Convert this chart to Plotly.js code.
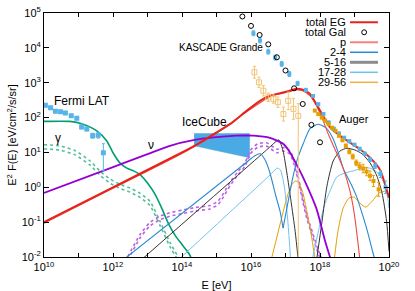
<!DOCTYPE html>
<html><head><meta charset="utf-8">
<script src="https://cdn.plot.ly/plotly-3.0.1.min.js"></script>
<style>html,body{margin:0;padding:0;background:#fff}#c{width:415px;height:291px}</style>
</head><body><div id="c"></div>
<script>
// All energies / fluxes stored as log10 values (E in eV, E^2F in eV/cm^2/s/sr)
const xTickVals = [10, 12, 14, 16, 18, 20];
const xTickText = ['10<sup>10</sup>','10<sup>12</sup>','10<sup>14</sup>','10<sup>16</sup>','10<sup>18</sup>','10<sup>20</sup>'];
const xMinorVals = [11, 13, 15, 17, 19];
const yTickVals = [-2,-1,0,1,2,3,4,5];
const yTickText = ['10<sup>-2</sup>','10<sup>-1</sup>','10<sup>0</sup>','10<sup>1</sup>','10<sup>2</sup>','10<sup>3</sup>','10<sup>4</sup>','10<sup>5</sup>'];

// IceCube band
const iceE = [14.35, 15.96, 15.96, 14.35];
const iceF = [1.54, 1.54, 0.85, 1.19];

// gamma (green)
const gamE = [10, 10.75, 11.13, 11.53, 11.82, 12.0, 12.2, 12.4, 12.6, 12.8, 13.0, 13.2, 13.4, 13.6, 13.8, 14.0, 14.2, 14.3];
const gamF = [1.89, 1.89, 1.81, 1.62, 1.33, 0.99, 0.70, 0.55, 0.47, 0.35, 0.12, -0.17, -0.57, -1.03, -1.38, -1.64, -1.90, -2.1];
const gamBandE = [10.0, 10.45, 10.9, 11.33, 11.62, 11.91, 12.2, 12.49, 12.78, 13.07, 13.36, 13.65, 13.95];
const gamBandUp = [1.22, 1.19, 1.05, 0.76, 0.47, 0.24, 0.09, -0.02, -0.17, -0.40, -0.97, -1.58, -2.1];
const gamBandLo = [1.10, 1.07, 0.93, 0.64, 0.35, 0.12, -0.03, -0.14, -0.29, -0.52, -1.09, -1.70, -2.2];

// neutrinos (purple)
const nuE = [10, 12, 13, 13.65, 14.33, 14.91, 15.59, 16.07, 16.55, 16.94, 17.13, 17.35, 17.55, 17.9, 18.15, 18.32];
const nuF = [-0.16, 0.58, 0.95, 1.19, 1.35, 1.43, 1.48, 1.48, 1.42, 1.24, 1.0, 0.6, 0.2, -0.62, -1.55, -2.1];
const nuBandE = [12.43, 12.78, 13.07, 13.36, 13.65, 14.03, 14.38, 14.81, 15.04, 15.25, 15.39, 15.62, 15.83, 15.97, 16.2, 16.45, 16.75, 16.93, 17.13, 17.25, 17.38, 17.5, 17.62, 17.8, 17.95, 18.08];
const nuBandUp = [-1.99, -1.36, -1.01, -0.83, -0.73, -0.65, -0.58, -0.52, -0.40, -0.10, 0.14, 0.45, 0.71, 1.05, 1.25, 1.28, 1.09, 1.14, 1.05, 0.75, 0.25, -0.30, -0.80, -1.35, -1.80, -2.1];
const nuBandLo = [-2.09, -1.46, -1.11, -0.93, -0.83, -0.75, -0.68, -0.62, -0.50, -0.20, 0.04, 0.35, 0.61, 0.95, 1.15, 1.18, 0.99, 1.04, 0.95, 0.65, 0.15, -0.40, -0.90, -1.45, -1.90, -2.2];

// total EG and protons (red)
const egE = [10, 12, 14, 14.5, 14.91, 15.39, 15.88, 16.26, 16.55, 16.84, 17.1, 17.28, 17.5, 17.71, 18.0, 18.29, 18.58, 18.87, 19.16, 19.45, 19.74, 20.0];
const egF = [-1.0, 0.0, 1.0, 1.27, 1.52, 1.81, 2.20, 2.48, 2.63, 2.70, 2.76, 2.82, 2.80, 2.68, 2.20, 1.72, 1.48, 1.28, 1.09, 0.85, 0.50, -0.3];
const pE = [10, 12, 14, 14.91, 15.88, 16.55, 17.1, 17.28, 17.5, 17.71, 17.9, 18.09, 18.25, 18.43, 18.67, 18.87, 19.0, 19.16];
const pF = [-1.03, -0.03, 0.97, 1.49, 2.17, 2.60, 2.74, 2.79, 2.77, 2.62, 2.33, 1.91, 1.50, 1.10, 0.55, -0.11, -0.8, -2.1];

// 2-4 (blue)
const heGalE = [12.35, 15.9, 16.1, 16.27, 16.41, 16.55, 16.72, 16.84, 16.93];
const heGalF = [-2.04, 0.74, 0.90, 0.96, 0.78, 0.41, -0.25, -0.68, -1.17];
const heEgE = [16.93, 17.04, 17.19, 17.33, 17.51, 17.71, 17.94, 18.17, 18.38, 18.58, 18.67, 18.93, 19.07, 19.22, 19.36, 19.54, 19.6];
const heEgF = [-1.17, -0.60, 0.18, 0.76, 1.24, 1.68, 1.81, 1.71, 1.39, 0.84, 0.55, 0.03, -0.29, -0.75, -1.21, -1.90, -2.1];

// 5-16 (black)
const cnoGalE = [12.88, 16.45, 16.745, 16.81, 16.93, 17.04, 17.16, 17.28, 17.37];
const cnoGalF = [-2.03, 1.07, 1.33, 1.36, 1.04, 0.41, -0.40, -1.26, -2.1];
const cnoEgE = [17.9, 18.06, 18.2, 18.38, 18.58, 18.78, 19.01, 19.22, 19.45, 19.65, 19.8, 19.93, 20.0];
const cnoEgF = [-2.1, -0.97, 0.03, 0.75, 1.04, 1.12, 1.07, 0.96, 0.70, 0.32, -0.17, -0.97, -1.84];

// 17-28 (light blue)
const mgGalE = [13.94, 16.6, 16.75, 16.85, 16.97, 17.07, 17.15];
const mgGalF = [-2.04, 0.40, 0.55, 0.50, 0.0, -1.0, -2.1];
const mgEgE = [17.77, 17.94, 18.12, 18.29, 18.49, 18.72, 18.96, 19.22, 19.45, 19.68, 19.86, 19.97, 20.0];
const mgEgF = [-2.1, -1.32, -0.54, -0.11, 0.30, 0.41, 0.47, 0.55, 0.55, 0.41, 0.12, -0.34, -0.6];

// 29-56 (orange)
const feGalE = [16.58, 16.72, 16.90, 17.07, 17.2, 17.30, 17.4, 17.5, 17.62, 17.74, 17.86];
const feGalF = [-2.1, -1.55, -0.83, -0.20, 0.10, 0.18, 0.10, -0.15, -0.69, -1.32, -2.1];
const feEgE = [18.41, 18.52, 18.67, 18.84, 18.99, 19.16, 19.33, 19.51, 19.71, 19.91, 20.0];
const feEgF = [-2.1, -1.26, -0.60, -0.31, -0.28, -0.46, -0.57, -0.40, -0.17, -0.11, -0.25];

// data points
const fermiE = [10.04, 10.19, 10.33, 10.48, 10.62, 10.79, 10.95, 11.09, 11.24, 11.41, 11.57, 11.72];
const fermiF = [2.35, 2.28, 2.18, 2.17, 2.13, 2.05, 1.98, 1.73, 1.67, 1.48, 1.49, 0.99];
const fermiErrUp = [0.04, 0.04, 0.04, 0.04, 0.04, 0.04, 0.04, 0.05, 0.05, 0.07, 0.08, 0.26];
const fermiErrDn = [0.04, 0.04, 0.04, 0.04, 0.04, 0.04, 0.04, 0.05, 0.05, 0.07, 0.08, 0.52];

const kgE = [16.07, 16.26, 16.50, 16.70, 16.89, 17.11, 17.35, 17.59, 17.8, 17.95, 18.1, 18.25, 18.4, 18.55, 18.7, 18.85, 19.0, 19.15, 19.3, 19.45, 19.6, 19.75, 19.9];
const kgF = [4.42, 4.21, 3.89, 3.72, 3.54, 3.25, 2.98, 2.79, 2.62, 2.38, 2.10, 1.86, 1.68, 1.54, 1.42, 1.32, 1.22, 1.10, 0.96, 0.80, 0.62, 0.38, 0.0];
const kgErr = [0.07, 0.07, 0.07, 0.07, 0.07, 0.07, 0.06, 0.05, 0.04, 0.04, 0.04, 0.04, 0.04, 0.04, 0.04, 0.04, 0.04, 0.05, 0.05, 0.06, 0.08, 0.1, 0.18];

const galE = [15.75, 16.0, 16.25, 16.5, 16.75, 17.0, 17.25, 17.5, 17.75, 18.0];
const galF = [4.90, 4.63, 4.37, 4.10, 3.73, 3.35, 2.84, 2.39, 1.79, 1.29];

const tanE = [16.10, 16.23, 16.36, 16.50, 16.65, 16.78, 16.94, 17.08, 17.23, 17.37];
const tanF = [3.30, 3.01, 2.77, 2.58, 2.53, 2.44, 2.10, 2.48, 2.25, 2.05];
const tanErrUp = [0.17, 0.15, 0.15, 0.12, 0.12, 0.15, 0.2, 0.25, 0.3, 0.35];
const tanErrDn = [0.17, 0.15, 0.15, 0.12, 0.12, 0.15, 0.2, 0.25, 0.3, 4.2];

const augerE = [17.85, 17.95, 18.05, 18.15, 18.25, 18.35, 18.45, 18.55, 18.65, 18.75, 18.85, 18.95, 19.05, 19.15, 19.25, 19.35, 19.45, 19.55, 19.7];
const augerF = [2.20, 2.10, 2.00, 1.91, 1.81, 1.71, 1.62, 1.48, 1.35, 1.19, 1.02, 0.88, 0.70, 0.60, 0.54, 0.45, 0.33, 0.18, -0.06];
const augerErr = [0.03, 0.03, 0.03, 0.03, 0.03, 0.03, 0.03, 0.04, 0.04, 0.05, 0.06, 0.07, 0.08, 0.1, 0.12, 0.12, 0.14, 0.16, 0.2];

// legend
const legNames = ['total EG', 'total Gal', 'p', '2-4', '5-16', '17-28', '29-56'];
const legColors = ['#e5231b', '#000000', '#f4837a', '#2a8ad0', '#8c8c8c', '#6fc3ef', '#f0b040'];
const legWidths = [2, 0, 2, 1.5, 3, 1.5, 1.5];

// labels
const labText = ['Fermi LAT', '\u03b3', '\u03bd', 'IceCube', 'KASCADE Grande', 'Auger'];
const labE = [11.09, 10.41, 13.10, 14.64, 15.14, 18.99];
const labF = [2.48, 1.42, 1.20, 1.88, 4.01, 1.97];
const labSize = [12, 12, 12, 12, 10, 11];

// ---------- build ----------
const P = a => a.map(v => v === null ? null : Math.pow(10, v));
const join = (a, b) => a.concat([null], b);
function errs(f, up, dn) {
  return {type: 'data', symmetric: false,
    array: f.map((v, i) => Math.pow(10, v) * (Math.pow(10, up[i]) - 1)),
    arrayminus: f.map((v, i) => Math.pow(10, v) * (1 - Math.pow(10, -dn[i]))),
    thickness: 1, width: 1.5};
}
function line(xe, yf, color, width, dash) {
  return {type: 'scatter', mode: 'lines', x: P(xe), y: P(yf),
    line: {color: color, width: width, dash: dash || 'solid', shape: 'spline', smoothing: 0.6},
    hoverinfo: 'skip', showlegend: false, connectgaps: false};
}

const traces = [];
traces.push({type: 'scatter', mode: 'lines', x: P(iceE), y: P(iceF), fill: 'toself',
  fillcolor: '#4aaae3', line: {color: '#4aaae3', width: 0.5}, showlegend: false, hoverinfo: 'skip'});
traces.push(line(gamBandE, gamBandUp, '#55bf98', 1.6, 'dot'));
traces.push(line(gamBandE, gamBandLo, '#55bf98', 1.6, 'dot'));
traces.push(line(gamE, gamF, '#009e73', 1.6));
traces.push(line(nuBandE, nuBandUp, '#bb60e6', 1.6, 'dot'));
traces.push(line(nuBandE, nuBandLo, '#bb60e6', 1.6, 'dot'));
traces.push(line(join(feGalE, feEgE), join(feGalF, feEgF), '#e69f00', 1));
traces.push(line(join(mgGalE, mgEgE), join(mgGalF, mgEgF), '#6fc3ef', 1));
traces.push(line(join(cnoGalE, cnoEgE), join(cnoGalF, cnoEgF), '#333333', 1));
traces.push(line(join(heGalE, heEgE), join(heGalF, heEgF), '#2a8ad0', 1.1));
traces.push(line(pE, pF, '#ef4a40', 1.1));
traces.push(line(nuE, nuF, '#9400d3', 1.8));
traces.push(line(egE, egF, '#e5231b', 2));

traces.push({type: 'scatter', mode: 'markers', x: P(tanE), y: P(tanF),
  marker: {symbol: 'square-open', size: 5, color: '#f2c474', line: {width: 1}},
  error_y: Object.assign(errs(tanF, tanErrUp, tanErrDn), {color: '#f2c474'}), showlegend: false, hoverinfo: 'skip'});
traces.push({type: 'scatter', mode: 'markers', x: P(kgE), y: P(kgF),
  marker: {symbol: 'square-x', size: 4, color: '#56b4e9'},
  error_y: Object.assign(errs(kgF, kgErr, kgErr), {color: '#56b4e9'}), showlegend: false, hoverinfo: 'skip'});
traces.push({type: 'scatter', mode: 'markers', x: P(galE), y: P(galF),
  marker: {symbol: 'circle-open', size: 5, color: '#000', line: {width: 1}}, showlegend: false, hoverinfo: 'skip'});
traces.push({type: 'scatter', mode: 'markers', x: P(augerE), y: P(augerF),
  marker: {symbol: 'square', size: 4, color: '#e69f00'},
  error_y: Object.assign(errs(augerF, augerErr, augerErr), {color: '#e69f00'}), showlegend: false, hoverinfo: 'skip'});
traces.push({type: 'scatter', mode: 'markers', x: P(fermiE), y: P(fermiF),
  marker: {symbol: 'square-x', size: 5, color: '#56b4e9'},
  error_y: Object.assign(errs(fermiF, fermiErrUp, fermiErrDn), {color: '#56b4e9'}), showlegend: false, hoverinfo: 'skip'});

const font = 'Liberation Sans, Arial, sans-serif';
const annotations = labText.map((t, i) => ({x: labE[i], y: labF[i], xref: 'x', yref: 'y', text: t,
  showarrow: false, font: {family: font, size: labSize[i], color: '#000'}}));
const shapes = [];
// manual legend (text right-aligned, sample on the right)
const legTop = 0.962, legStep = 0.041;
legNames.forEach((n, i) => {
  const yy = legTop - i * legStep;
  annotations.push({x: 0.878, y: yy, xref: 'paper', yref: 'paper', text: n, showarrow: false,
    xanchor: 'right', yanchor: 'middle', borderpad: 0,
    font: {family: font, size: 11, color: '#000'}});
  if (legWidths[i] > 0) {
    shapes.push({type: 'line', xref: 'paper', yref: 'paper', x0: 0.887, x1: 0.968, y0: yy, y1: yy,
      line: {color: legColors[i], width: legWidths[i]}});
  } else {
    shapes.push({type: 'circle', xref: 'paper', yref: 'paper', x0: 0.921, x1: 0.935,
      y0: yy - 0.0102, y1: yy + 0.0102, line: {color: legColors[i], width: 1}});
  }
});

const layout = {
  width: 415, height: 291,
  margin: {l: 44, r: 26, t: 13, b: 34},
  paper_bgcolor: '#fff', plot_bgcolor: '#fff',
  showlegend: false,
  font: {family: font, size: 11, color: '#000'},
  xaxis: {type: 'log', range: [10, 20], tickmode: 'array', tickvals: P(xTickVals), ticktext: xTickText,
    ticks: 'inside', ticklen: 4, tickcolor: '#000', showline: true, linecolor: '#000', linewidth: 1,
    minor: {tickmode: 'array', tickvals: P(xMinorVals), ticks: 'inside', ticklen: 4, tickcolor: '#000', showgrid: false},
    mirror: 'allticks', showgrid: false, zeroline: false,
    title: {text: 'E [eV]', font: {family: font, size: 11}, standoff: 9},
    tickfont: {family: font, size: 11}},
  yaxis: {type: 'log', range: [-2, 5], tickmode: 'array', tickvals: P(yTickVals), ticktext: yTickText,
    ticks: 'inside', ticklen: 5, tickcolor: '#000', showline: true, linecolor: '#000', linewidth: 1,
    mirror: 'allticks', showgrid: false, zeroline: false,
    title: {text: 'E<sup>2</sup> F(E) [eV/cm<sup>2</sup>/s/sr]', font: {family: font, size: 11}, standoff: 2},
    tickfont: {family: font, size: 11}},
  annotations: annotations,
  shapes: shapes
};
Plotly.newPlot('c', traces, layout, {staticPlot: true, displayModeBar: false});
</script></body></html>
